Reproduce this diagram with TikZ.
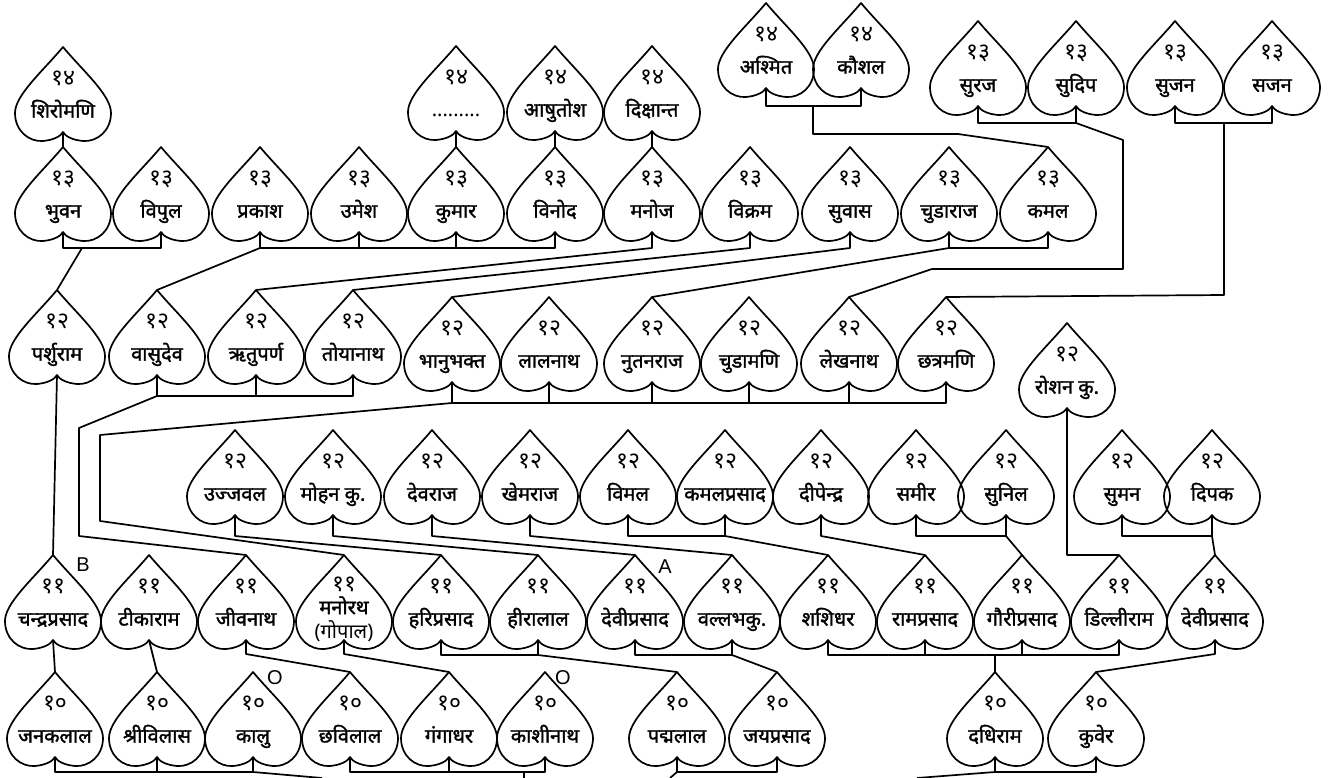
\documentclass[tikz,border=0pt]{standalone}
\usepackage{fontspec}
\setmainfont{Liberation Sans}
\newfontfamily\deva[Script=Devanagari]{Noto Sans}
\newfontfamily\devab[Script=Devanagari, FakeBold=1.6]{Noto Sans}
\newcommand{\gnum}[1]{{\deva\fontsize{23}{32}\selectfont\rule{0pt}{22pt}#1}}

\begin{document}
\begin{tikzpicture}[
x=1pt, y=-1pt,
leafline/.style={line width=1.7pt, line join=round},
link/.style={line width=1.7pt, line join=round},
badge/.style={inner sep=0pt, font=\fontsize{20}{20}\selectfont},
leaf/.style={anchor=north, minimum width=97pt, minimum height=93pt, inner sep=0pt, align=center,
  font=\devab\fontsize{20}{32}\selectfont,
  execute at end node={\rule[-6pt]{0pt}{6pt}},
  append after command={\pgfextra{\edef\lfname{\tikzlastnode}%
    \draw[leafline, shift={(\lfname.north)}] (0,0)
      .. controls (-20,24) and (-48,48) .. (-48,66)
      .. controls (-48,84) and (-34,95) .. (-20,94)
      .. controls (-9,93) and (-2,89) .. (0,85)
      .. controls (2,89) and (9,93) .. (20,94)
      .. controls (34,95) and (48,84) .. (48,66)
      .. controls (48,48) and (20,24) .. (0,0) -- cycle;
    \coordinate (\lfname-n) at ([yshift=-85pt]\lfname.north);}}}
]
\useasboundingbox (0,0) rectangle (1330,778);

% generation 14
\node[leaf] (shiromani) at (63,47) {\gnum{१४}\\शिरोमणि};
\node[leaf] (unknown) at (456,46) {\gnum{१४}\\{\deva .........}};
\node[leaf] (ashutosh) at (555,46) {\gnum{१४}\\आषुतोश};
\node[leaf] (dikshanta) at (652,46) {\gnum{१४}\\दिक्षान्त};
\node[leaf] (ashmit) at (766,3) {\gnum{१४}\\अश्मित};
\node[leaf] (kaushal) at (861,3) {\gnum{१४}\\कौशल};

% generation 13
\node[leaf] (suraj) at (978,21) {\gnum{१३}\\सुरज};
\node[leaf] (sudip) at (1076,21) {\gnum{१३}\\सुदिप};
\node[leaf] (sujan) at (1175,21) {\gnum{१३}\\सुजन};
\node[leaf] (sajan) at (1272,21) {\gnum{१३}\\सजन};
\node[leaf] (bhuvan) at (63,147) {\gnum{१३}\\भुवन};
\node[leaf] (vipul) at (161,147) {\gnum{१३}\\विपुल};
\node[leaf] (prakash) at (260,147) {\gnum{१३}\\प्रकाश};
\node[leaf] (umesh) at (359,147) {\gnum{१३}\\उमेश};
\node[leaf] (kumar) at (456,147) {\gnum{१३}\\कुमार};
\node[leaf] (vinod) at (555,147) {\gnum{१३}\\विनोद};
\node[leaf] (manoj) at (652,147) {\gnum{१३}\\मनोज};
\node[leaf] (vikram) at (750,147) {\gnum{१३}\\विक्रम};
\node[leaf] (suvas) at (850,147) {\gnum{१३}\\सुवास};
\node[leaf] (chudaraj) at (949,147) {\gnum{१३}\\चुडाराज};
\node[leaf] (kamal) at (1048,147) {\gnum{१३}\\कमल};

% generation 12
\node[leaf] (parshuram) at (57,290) {\gnum{१२}\\पर्शुराम};
\node[leaf] (vasudev) at (157,290) {\gnum{१२}\\वासुदेव};
\node[leaf] (ritupurna) at (256,290) {\gnum{१२}\\ऋतुपर्ण};
\node[leaf] (toyanath) at (353,290) {\gnum{१२}\\तोयानाथ};
\node[leaf] (bhanubhakta) at (452,297) {\gnum{१२}\\भानुभक्त};
\node[leaf] (lalnath) at (549,297) {\gnum{१२}\\लालनाथ};
\node[leaf] (nutanraj) at (652,297) {\gnum{१२}\\नुतनराज};
\node[leaf] (chudamani) at (749,297) {\gnum{१२}\\चुडामणि};
\node[leaf] (lekhnath) at (849,297) {\gnum{१२}\\लेखनाथ};
\node[leaf] (chhatramani) at (946,297) {\gnum{१२}\\छत्रमणि};
\node[leaf] (roshan) at (1067,323) {\gnum{१२}\\रोशन कु.};
\node[leaf] (ujjwal) at (235,430) {\gnum{१२}\\उज्जवल};
\node[leaf] (mohan) at (333,430) {\gnum{१२}\\मोहन कु.};
\node[leaf] (devraj) at (432,430) {\gnum{१२}\\देवराज};
\node[leaf] (khemraj) at (530,430) {\gnum{१२}\\खेमराज};
\node[leaf] (vimal) at (628,430) {\gnum{१२}\\विमल};
\node[leaf] (kamalprasad) at (725,430) {\gnum{१२}\\कमलप्रसाद};
\node[leaf] (dipendra) at (821,430) {\gnum{१२}\\दीपेन्द्र};
\node[leaf] (samir) at (916,430) {\gnum{१२}\\समीर};
\node[leaf] (sunil) at (1006,430) {\gnum{१२}\\सुनिल};
\node[leaf] (suman) at (1122,430) {\gnum{१२}\\सुमन};
\node[leaf] (dipak) at (1212,430) {\gnum{१२}\\दिपक};

% generation 11
\node[leaf] (chandraprasad) at (53,555) {\gnum{११}\\चन्द्रप्रसाद};
\node[leaf] (tikaram) at (149,555) {\gnum{११}\\टीकाराम};
\node[leaf] (jivnath) at (246,555) {\gnum{११}\\जीवनाथ};
\node[leaf, minimum height=103pt] (manorath) at (344,555) {\gnum{११}\\[-9pt]मनोरथ\\[-8pt]{\deva (गोपाल)}};
\node[leaf] (hariprasad) at (441,555) {\gnum{११}\\हरिप्रसाद};
\node[leaf] (hiralal) at (538,555) {\gnum{११}\\हीरालाल};
\node[leaf] (deviprasad) at (635,555) {\gnum{११}\\देवीप्रसाद};
\node[leaf] (vallabh) at (732,555) {\gnum{११}\\वल्लभकु.};
\node[leaf] (shashidhar) at (828,555) {\gnum{११}\\शशिधर};
\node[leaf] (ramprasad) at (925,555) {\gnum{११}\\रामप्रसाद};
\node[leaf] (gauriprasad) at (1022,555) {\gnum{११}\\गौरीप्रसाद};
\node[leaf] (dilliram) at (1119,555) {\gnum{११}\\डिल्लीराम};
\node[leaf] (deviprasadb) at (1215,555) {\gnum{११}\\देवीप्रसाद};

% generation 10
\node[leaf] (janaklal) at (55,672) {\gnum{१०}\\जनकलाल};
\node[leaf] (shrivilas) at (157,672) {\gnum{१०}\\श्रीविलास};
\node[leaf] (kalu) at (253,672) {\gnum{१०}\\कालु};
\node[leaf] (chhavilal) at (350,672) {\gnum{१०}\\छविलाल};
\node[leaf] (gangadhar) at (449,672) {\gnum{१०}\\गंगाधर};
\node[leaf] (kashinath) at (545,672) {\gnum{१०}\\काशीनाथ};
\node[leaf] (padmalal) at (677,672) {\gnum{१०}\\पद्मलाल};
\node[leaf] (jayaprasad) at (777,672) {\gnum{१०}\\जयप्रसाद};
\node[leaf] (dadhiram) at (995,672) {\gnum{१०}\\दधिराम};
\node[leaf] (kuver) at (1096,672) {\gnum{१०}\\कुवेर};

% marks
\node[badge] (markb) at (83,565) {B};
\node[badge] (marka) at (665,567) {A};
\node[badge] (markkalu) at (275,678) {O};
\node[badge] (markkashi) at (563,678) {O};

\coordinate (out1) at (322,778);
\coordinate (out2) at (524,778);
\coordinate (out3) at (670,778);
\coordinate (out4) at (917,778);

% 14 -> 13
\draw[link] (shiromani-n) -- (bhuvan.north);
\draw[link] (unknown-n) -- (kumar.north);
\draw[link] (ashutosh-n) -- (vinod.north);
\draw[link] (dikshanta-n) -- (manoj.north);
\draw[link] (ashmit-n) -- ++(0,18) -| (kaushal-n);
\draw[link] ([xshift=47pt,yshift=-18pt]ashmit-n) -- ++(0,28) -- ++(145,0) -- (kamal.north);
\draw[link] (suraj-n) -- ++(0,17) -| (sudip-n);
\draw[link] ([yshift=-17pt]sudip-n) -- ++(47,17) -- ++(0,129) -- ++(-191,0) -- (lekhnath.north);
\draw[link] (sujan-n) -- ++(0,17) -| (sajan-n);
\draw[link] ([xshift=49pt,yshift=-17pt]sujan-n) -- ++(0,172) -- (chhatramani.north);

% 13 -> 12
\draw[link] (bhuvan-n) -- ++(0,16) -| (vipul-n);
\draw[link] ([xshift=19pt,yshift=-16pt]bhuvan-n) -- (parshuram.north);
\draw[link] (prakash-n) -- ++(0,16) -| (vinod-n) (umesh-n) -- ++(0,16) (kumar-n) -- ++(0,16);
\draw[link] ([yshift=-16pt]prakash-n) -- (vasudev.north);
\draw[link] (manoj-n) -- ++(0,16) -- (ritupurna.north);
\draw[link] (vikram-n) -- ++(0,16) -- (toyanath.north);
\draw[link] (suvas-n) -- ++(0,16) -- (bhanubhakta.north);
\draw[link] (chudaraj-n) -- ++(0,16) -| (kamal-n);
\draw[link] ([yshift=-16pt]chudaraj-n) -- (nutanraj.north);

% 12 -> 11
\draw[link] (parshuram-n) -- (chandraprasad.north);
\draw[link] (vasudev-n) -- ++(0,21) -| (toyanath-n) (ritupurna-n) -- ++(0,21);
\draw[link] ([yshift=-21pt]vasudev-n) -- ++(-78,32) -- ++(0,108) -- (jivnath.north);
\draw[link] (bhanubhakta-n) -- ++(0,21) -| (chhatramani-n) (lalnath-n) -- ++(0,21)
  (nutanraj-n) -- ++(0,21) (chudamani-n) -- ++(0,21) (lekhnath-n) -- ++(0,21);
\draw[link] ([yshift=-21pt]bhanubhakta-n) -- ++(-352,32) -- ++(0,86) -- (manorath.north);
\draw[link] (ujjwal-n) -- ++(0,21) -- (hariprasad.north);
\draw[link] (mohan-n) -- ++(0,21) -- (hiralal.north);
\draw[link] (devraj-n) -- ++(0,21) -- (deviprasad.north);
\draw[link] (khemraj-n) -- ++(0,21) -- (vallabh.north);
\draw[link] (vimal-n) -- ++(0,21) -| (kamalprasad-n);
\draw[link] ([yshift=-21pt]kamalprasad-n) -- (shashidhar.north);
\draw[link] (dipendra-n) -- ++(0,21) -- (ramprasad.north);
\draw[link] (samir-n) -- ++(0,21) -| (sunil-n);
\draw[link] ([yshift=-21pt]sunil-n) -- (gauriprasad.north);
\draw[link] (roshan-n) |- (dilliram.north);
\draw[link] (suman-n) -- ++(0,21) -| (dipak-n);
\draw[link] ([yshift=-21pt]dipak-n) -- (deviprasadb.north);

% 11 -> 10
\draw[link] (chandraprasad-n) -- (janaklal.north);
\draw[link] (tikaram-n) -- (shrivilas.north);
\draw[link] (jivnath-n) -- ++(0,14) -- (chhavilal.north);
\draw[link] (manorath-n) -- ++(0,14) -- (gangadhar.north);
\draw[link] (hariprasad-n) -- ++(0,15) -| (hiralal-n);
\draw[link] ([yshift=-15pt]hiralal-n) -- (padmalal.north);
\draw[link] (deviprasad-n) -- ++(0,15) -| (vallabh-n);
\draw[link] ([yshift=-15pt]vallabh-n) -- (jayaprasad.north);
\draw[link] (shashidhar-n) -- ++(0,15) -| (dilliram-n) (ramprasad-n) -- ++(0,15)
  (gauriprasad-n) -- ++(0,15);
\draw[link] ([xshift=167pt,yshift=-15pt]shashidhar-n) -- (dadhiram.north);
\draw[link] (deviprasadb-n) -- ++(0,14) -- (kuver.north);

% 10 -> below
\draw[link] (janaklal-n) -- ++(0,15) -| (kalu-n) (shrivilas-n) -- ++(0,15);
\draw[link] ([yshift=-15pt]kalu-n) -- (out1);
\draw[link] (chhavilal-n) -- ++(0,15) -| (kashinath-n) (gangadhar-n) -- ++(0,15);
\draw[link] ([xshift=174pt,yshift=-15pt]chhavilal-n) -- (out2);
\draw[link] (padmalal-n) -- ++(0,15) -| (jayaprasad-n);
\draw[link] ([yshift=-15pt]padmalal-n) -- (out3);
\draw[link] (dadhiram-n) -- ++(0,15) -| (kuver-n);
\draw[link] ([yshift=-15pt]dadhiram-n) -- (out4);
\end{tikzpicture}
\end{document}
